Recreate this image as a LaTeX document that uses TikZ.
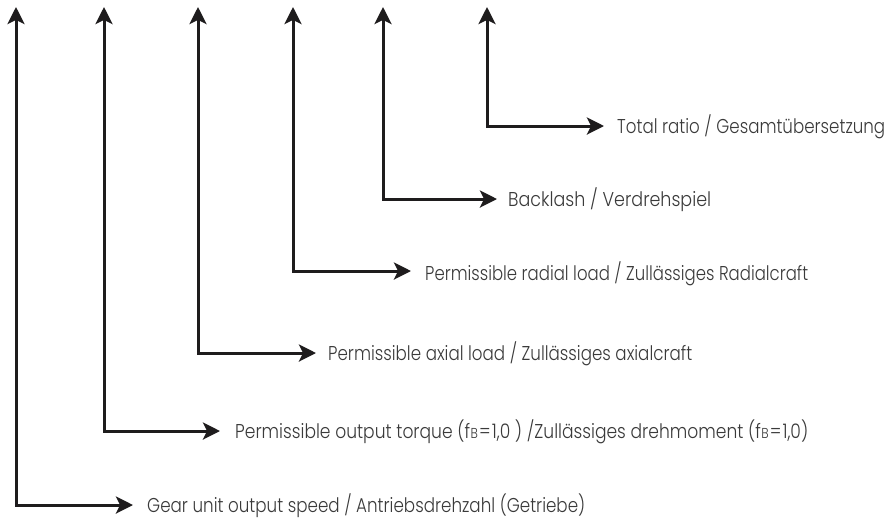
\documentclass[tikz,border=0pt]{standalone}
\usepackage{fontspec}
\setmainfont{Poppins}[UprightFont={* Light}, FakeStretch=0.8]
\usetikzlibrary{arrows.meta}
\definecolor{linecol}{HTML}{1E1C1D}
\definecolor{textcol}{HTML}{3A3A3A}
\tikzset{
  leader/.style={draw=linecol, line width=3pt,
    {Stealth[length=17pt,width=17pt,inset=4pt]}-{Stealth[length=17pt,width=17pt,inset=4pt]}},
  caption/.style={anchor=base west, inner sep=0pt, text=textcol, font=\fontsize{20}{24}\selectfont}
}
% set a caption to a given width, keeping its height
\newcommand{\fitw}[2]{\resizebox{#1}{\height}{#2}}
\newcommand{\fBsub}{f\kern0.5pt\scalebox{0.72}{B}}
\newcommand{\eqsign}{\kern1pt=\kern1pt}
\begin{document}
\begin{tikzpicture}[x=1pt,y=-1pt]
  \useasboundingbox (0,0) rectangle (888,523);
  % arrow tips at the top edge
  \coordinate (t1) at (16,7);
  \coordinate (t2) at (104,7);
  \coordinate (t3) at (198,7);
  \coordinate (t4) at (293,7);
  \coordinate (t5) at (383,7);
  \coordinate (t6) at (487,7);
  % arrow tips pointing at the captions
  \coordinate (h1) at (133,505);
  \coordinate (h2) at (220,431);
  \coordinate (h3) at (316,353);
  \coordinate (h4) at (411,271);
  \coordinate (h5) at (497,199);
  \coordinate (h6) at (604,126);
  % captions
  \node[caption] (c1) at (147,512) {\fitw{438pt}{Gear unit output speed / Antriebsdrehzahl (Getriebe)}};
  \node[caption] (c2) at (235,438) {\fitw{573pt}{Permissible output torque (\fBsub\eqsign 1,0 ) /Zullässiges drehmoment (\fBsub\eqsign 1,0)}};
  \node[caption] (c3) at (328,360) {\fitw{364pt}{Permissible axial load / Zullässiges axialcraft}};
  \node[caption] (c4) at (425,280) {\fitw{383pt}{Permissible radial load / Zullässiges Radialcraft}};
  \node[caption] (c5) at (508,206) {\fitw{203pt}{Backlash / Verdrehspiel}};
  \node[caption] (c6) at (617,133) {\fitw{268pt}{Total ratio / Gesamtübersetzung}};
  % leaders
  \foreach \i in {1,...,6} {
    \draw[leader] (t\i) |- (h\i);
  }
\end{tikzpicture}
\end{document}
